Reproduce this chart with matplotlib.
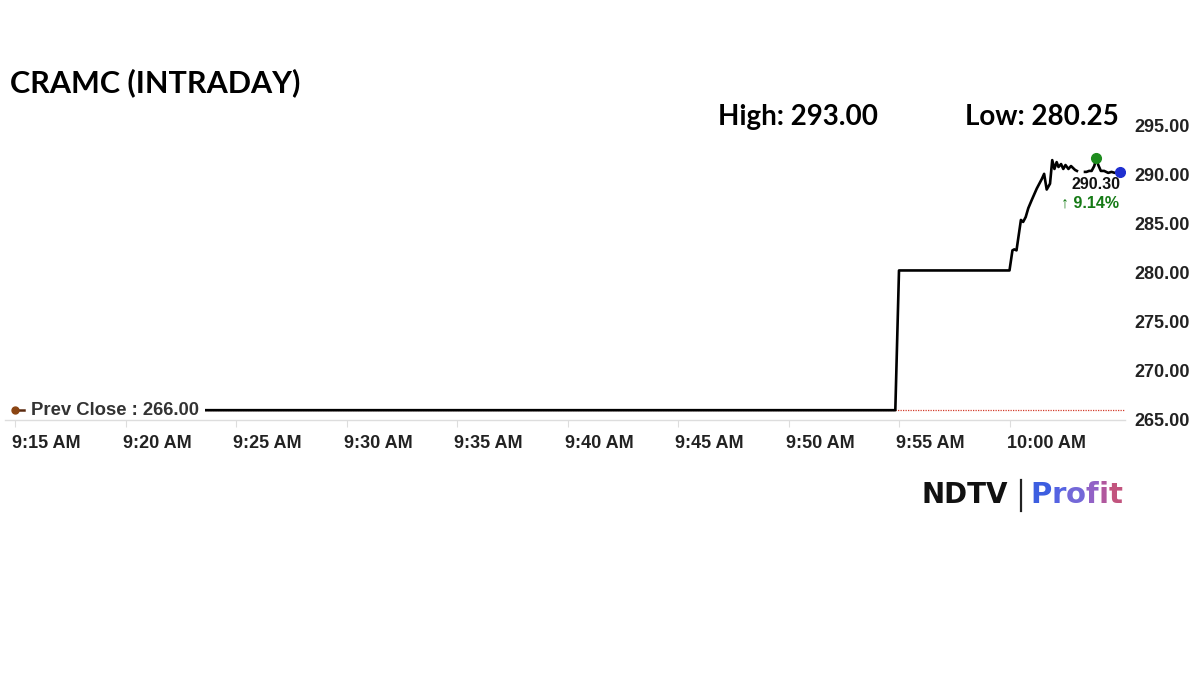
import matplotlib
matplotlib.use("Agg")
import matplotlib.pyplot as plt
import matplotlib.dates as mdates
import matplotlib.transforms as mtrans
import numpy as np
import pandas as pd

plt.rcParams['font.family'] = ['Liberation Sans', 'DejaVu Sans']

# ---- data ----
prev_close = 266.00
day_high = 293.00
day_low = 280.25
last_price = 290.30
change_pct = 9.14

times = [
    "09:15:00", "09:54:50", "09:55:00", "10:00:00",
    "10:00:08", "10:00:13", "10:00:19", "10:00:31", "10:00:37", "10:00:44",
    "10:00:51", "10:01:00", "10:01:14", "10:01:28", "10:01:34", "10:01:41",
    "10:01:50", "10:01:56", "10:02:02", "10:02:08", "10:02:13", "10:02:20",
    "10:02:26", "10:02:32", "10:02:40", "10:02:47", "10:02:58", "10:03:03",
    "10:03:15", "10:03:25", "10:03:29", "10:03:36", "10:03:43", "10:03:50",
    "10:03:56", "10:04:01", "10:04:08", "10:04:17", "10:04:28", "10:04:37",
    "10:04:46", "10:05:00",
]
prices = [
    266.00, 266.00, 280.25, 280.25,
    282.3, 282.4, 282.3, 285.4, 285.2, 285.7,
    286.6, 287.4, 288.6, 289.6, 290.1, 288.5,
    289.1, 291.5, 290.6, 291.3, 290.8, 291.1,
    290.6, 291.0, 290.6, 290.9, 290.5, 290.4,
    np.nan, 290.3, 290.3, 290.4, 290.4, 290.9,
    291.7, 291.0, 290.4, 290.4, 290.2, 290.3,
    290.2, 290.3,
]
tick_times = ["09:15", "09:20", "09:25", "09:30", "09:35", "09:40",
              "09:45", "09:50", "09:55", "10:00"]
y_ticks = [265, 270, 275, 280, 285, 290, 295]

day = "2024-01-01 "
t = pd.to_datetime([day + s for s in times])
p = np.array(prices)
ticks = pd.to_datetime([day + s for s in tick_times])

fig = plt.figure(figsize=(12, 6.75), dpi=100)
W, H = 1200, 675
ax_l, ax_r, ax_t, ax_b = 5, 1125, 116, 420
ax = fig.add_axes([ax_l / W, 1 - ax_b / H, (ax_r - ax_l) / W, (ax_b - ax_t) / H])

# x limits so that 9:15 sits at px 15 and 10:05 at px 1120
px_per_min = 110.5 / 5
t0 = pd.Timestamp(day + "09:15")
xmin = t0 - pd.Timedelta(minutes=(15 - ax_l) / px_per_min)
xmax = t0 + pd.Timedelta(minutes=(ax_r - 15) / px_per_min)
ax.set_xlim(xmin, xmax)
ax.set_ylim(265, 296)

# prev close reference line
ax.axhline(prev_close, color="#d23a2a", lw=0.9, ls=(0, (1, 1)), zorder=1)
ax.plot(t, p, color="black", lw=1.9, zorder=3)

# high / last markers
hi = np.nanargmax(p)
ax.plot(t[hi], p[hi], "o", color="#1e8c1e", ms=7, zorder=4)
ax.plot(t[-1], p[-1], "o", color="#1f2fd0", ms=7, zorder=4)

ax.annotate(f"{last_price:.2f}", xy=(t[-1], p[-1]), xytext=(-24, -13),
            textcoords="offset pixels", ha="center", va="center",
            fontsize=11.5, fontweight="bold", color="#111111", zorder=5)
ax.annotate(f"\u2191 {change_pct:.2f}%", xy=(t[-1], p[-1]), xytext=(-30, -31),
            textcoords="offset pixels", ha="center", va="center",
            fontsize=11.5, fontweight="bold", color="#157a15", zorder=5)

# prev close label: white band hides the line behind the label
blend = mtrans.blended_transform_factory(ax.transAxes, ax.transData)
ax.add_patch(plt.Rectangle((0, prev_close - 0.8), (205 - ax_l) / (ax_r - ax_l), 1.6,
                           transform=blend, fc="white", ec="none", zorder=5))
ax.annotate(f"Prev Close : {prev_close:.2f}", xy=(t0, prev_close), xytext=(16, 0),
            textcoords="offset pixels", ha="left", va="center",
            fontsize=13.3, fontweight="bold", color="#333333", zorder=6)
ax.plot([t0, t0 + pd.Timedelta(seconds=25)], [prev_close, prev_close],
        color="#5a2a10", lw=1.8, zorder=7, clip_on=False)
ax.plot(t0, prev_close, "o", color="#8b4513", ms=5, zorder=8, clip_on=False)

# axes styling
for s in ["top", "right", "left"]:
    ax.spines[s].set_visible(False)
ax.spines["bottom"].set_color("#dddddd")
ax.spines["bottom"].set_linewidth(1)

ax.set_xticks(ticks)
ax.xaxis.set_major_formatter(mdates.DateFormatter("%-I:%M %p"))
ax.tick_params(axis="x", length=5, color="#dddddd", pad=6,
               labelsize=13, labelcolor="#222222")
offset = mtrans.ScaledTranslation(-3 / 100, 0, fig.dpi_scale_trans)
for lab in ax.get_xticklabels():
    lab.set_fontweight("bold")
    lab.set_horizontalalignment("left")
    lab.set_transform(lab.get_transform() + offset)

ax.yaxis.tick_right()
ax.set_yticks(y_ticks)
ax.set_yticklabels([f"{v:.2f}" for v in y_ticks])
ax.tick_params(axis="y", length=0, pad=7, labelsize=13, labelcolor="#222222")
for lab in ax.get_yticklabels():
    lab.set_fontweight("bold")

# headline texts
head = ['Lato', 'DejaVu Sans']
fig.text(10 / W, 1 - 83 / H, "CRAMC (INTRADAY)", family=head, fontweight="bold",
         fontsize=22, color="black", ha="left", va="center")
fig.text(718 / W, 1 - 117 / H, f"High: {day_high:.2f}", family=head,
         fontweight="bold", fontsize=20, color="black", ha="left", va="center")
fig.text(965 / W, 1 - 117 / H, f"Low: {day_low:.2f}", family=head,
         fontweight="bold", fontsize=20, color="black", ha="left", va="center")

# logo
fig.text(921 / W, 1 - 495 / H, "NDTV", family="DejaVu Sans", fontsize=20,
         fontweight="bold", color="#111111", ha="left", va="center")
fig.lines.append(plt.Line2D([1021 / W, 1021 / W], [1 - 480 / H, 1 - 511 / H],
                            transform=fig.transFigure, color="#222222", lw=1.6))
prof_cols = ["#3d5ee0", "#5563e2", "#7468d8", "#9262c6", "#b0589e", "#c2547e"]
x = 1030
renderer = fig.canvas.get_renderer()
for ch, c in zip("Profit", prof_cols):
    tx = fig.text(x / W, 1 - 495 / H, ch, family="DejaVu Sans", fontsize=21,
                  fontweight="bold", color=c, ha="left", va="center")
    x += tx.get_window_extent(renderer=renderer).width

fig.savefig("out.png", dpi=100)
